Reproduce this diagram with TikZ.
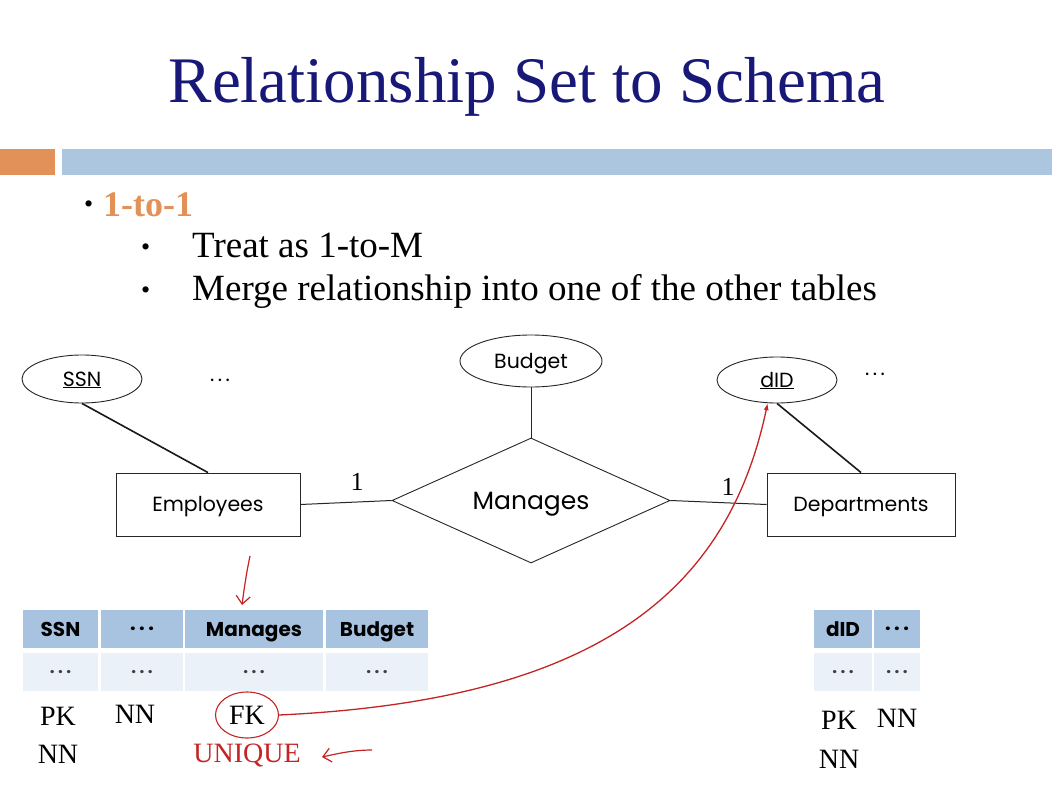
\documentclass[tikz,border=0pt]{standalone}
\usepackage{fontspec}
\setmainfont{Liberation Serif}
\newfontfamily\ersans{Poppins}
\usetikzlibrary{shapes.geometric,arrows.meta}
\definecolor{titleblue}{RGB}{24,24,120}
\definecolor{accent}{RGB}{226,146,88}
\definecolor{barblue}{RGB}{173,198,224}
\definecolor{hdrblue}{RGB}{168,195,224}
\definecolor{rowblue}{RGB}{234,241,249}
\definecolor{pen}{RGB}{196,36,36}
% spaced ellipsis used in the diagram and the tables
\newcommand{\gapdots}{.\kern3.5pt.\kern3.5pt.}
\tikzset{
  erfont/.style={font=\ersans\fontsize{20.5}{24}\selectfont, text height=14pt, text depth=0pt},
  entity/.style={draw=black!85, line width=0.9pt, minimum height=63, inner sep=0, erfont},
  attr/.style={ellipse, draw=black!85, line width=0.9pt, inner sep=0, erfont},
  rel/.style={diamond, aspect=2.2, draw=black!85, line width=0.9pt,
    minimum width=278, minimum height=125, inner sep=0,
    font=\ersans\fontsize{25}{28}\selectfont, text height=17pt, text depth=0pt},
  erlink/.style={line width=1pt, black!85},
  keylink/.style={line width=1.6pt, black!90},
  plain/.style={inner sep=0, erfont},
  card/.style={inner sep=0, font=\fontsize{26}{28}\selectfont},
  hcell/.style={fill=hdrblue, minimum height=38, inner sep=0,
    font=\ersans\bfseries\fontsize{20}{24}\selectfont, text height=14pt, text depth=0pt},
  rcell/.style={fill=rowblue, minimum height=38, inner sep=0,
    font=\ersans\bfseries\fontsize{17}{22}\selectfont, text height=3pt, text depth=0pt, text=black!75},
  note/.style={inner sep=0, font=\fontsize{28}{30}\selectfont},
  bodytext/.style={inner sep=0, anchor=base west, font=\fontsize{37}{40}\selectfont},
}
\begin{document}
\begin{tikzpicture}[x=1pt,y=-1pt]
\useasboundingbox (0,0) rectangle (1052,794);
\fill[white] (0,0) rectangle (1052,794);

% title and header bars
\node[inner sep=0, anchor=base, text=titleblue, font=\fontsize{65}{70}\selectfont]
  (title) at (527,103) {Relationship Set to Schema};
\fill[accent] (0,149) rectangle (55,175);
\fill[barblue] (62,149) rectangle (1052,175);

% bullet list
\node[bodytext, font=\fontsize{26}{28}\selectfont] (b0) at (84,213) {\textbullet};
\node[bodytext, text=accent, font=\bfseries\fontsize{36}{40}\selectfont] (l0) at (103,217) {1-to-1};
\node[bodytext, font=\fontsize{26}{28}\selectfont] (b1) at (141,256) {\textbullet};
\node[bodytext] (l1) at (192,258) {Treat as 1-to-M};
\node[bodytext, font=\fontsize{26}{28}\selectfont] (b2) at (141,299) {\textbullet};
\node[bodytext] (l2) at (192,301) {Merge relationship into one of the other tables};

% ER diagram
\node[attr, minimum width=120, minimum height=48] (ssn) at (82,379) {\underline{SSN}};
\node[plain, text height=3pt] (edots) at (220,380) {\gapdots};
\node[entity, minimum width=184] (emp) at (208,504.5) {Employees};
\node[attr, minimum width=142, minimum height=52] (budget) at (531,361) {Budget};
\node[rel] (mgr) at (531,500.5) {Manages};
\node[attr, minimum width=120, minimum height=46] (did) at (777,380) {\underline{dID}};
\node[plain, text height=3pt] (ddots) at (875,374) {\gapdots};
\node[entity, minimum width=188] (dept) at (861,504.5) {Departments};

\draw[keylink] (ssn.south) -- (emp.north);
\draw[keylink] (did.south) -- (dept.north);
\draw[erlink] (budget.south) -- (mgr.north);
\draw[erlink] (emp.east) -- (mgr.west);
\draw[erlink] (mgr.east) -- (dept.west);
\node[card] (c1) at (357,482) {1};
\node[card] (c2) at (728,487) {1};

% Employees table
\node[hcell, minimum width=75]  (h1) at (60.5,629) {SSN};
\node[hcell, minimum width=82, text height=3pt]  (h2) at (142,629) {\gapdots};
\node[hcell, minimum width=138] (h3) at (254,629) {Manages};
\node[hcell, minimum width=102] (h4) at (377,629) {Budget};
\node[rcell, minimum width=75]  (r1) at (60.5,672) {\gapdots};
\node[rcell, minimum width=82]  (r2) at (142,672) {\gapdots};
\node[rcell, minimum width=138] (r3) at (254,672) {\gapdots};
\node[rcell, minimum width=102] (r4) at (377,672) {\gapdots};
\node[note] (pk1) at (58,716) {PK};
\node[note] (nn1) at (58,754) {NN};
\node[note] (nn2) at (135,714) {NN};

% Departments table
\node[hcell, minimum width=58] (dh1) at (843,629) {dID};
\node[hcell, minimum width=46, text height=3pt] (dh2) at (897,629) {\gapdots};
\node[rcell, minimum width=58] (dr1) at (843,672) {\gapdots};
\node[rcell, minimum width=46] (dr2) at (897,672) {\gapdots};
\node[note] (pk2) at (839,720) {PK};
\node[note] (nn3) at (897,718) {NN};
\node[note] (nn4) at (839,759) {NN};

% red annotations
\node[note, ellipse, draw=pen, line width=1.1pt, minimum width=63, minimum height=46] (fk) at (247,715) {FK};
\node[note, text=pen] (uniq) at (247,755) {UNIQUE};
\draw[pen, line width=1.3pt, -{Latex[length=7pt,width=5pt]}]
  (fk.east) .. controls (600,700) and (728,590) .. (did.248);
\coordinate (downA) at (250,556);
\coordinate (downB) at (242,605);
\draw[pen, line width=1.2pt, -{Straight Barb[length=8pt,width=14pt]}]
  (downA) .. controls (246,575) and (244,590) .. (downB);
\coordinate (leftA) at (372,750);
\coordinate (leftB) at (322,757);
\draw[pen, line width=1.2pt, -{Straight Barb[length=8pt,width=14pt]}]
  (leftA) .. controls (352,750) and (336,754) .. (leftB);
\end{tikzpicture}
\end{document}
